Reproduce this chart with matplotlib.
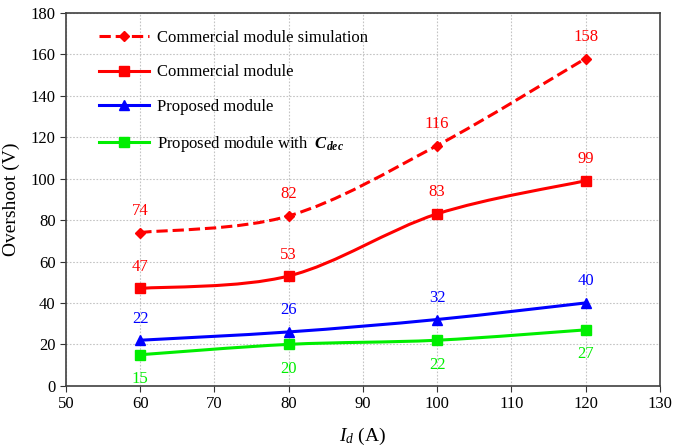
import numpy as np
import matplotlib.pyplot as plt
from matplotlib.path import Path
from matplotlib.patches import PathPatch

plt.rcParams["font.family"] = ["Liberation Serif", "DejaVu Serif"]
plt.rcParams["mathtext.fontset"] = "custom"
plt.rcParams["mathtext.rm"] = "Liberation Serif"
plt.rcParams["mathtext.it"] = "Liberation Serif:italic"
plt.rcParams["mathtext.bf"] = "Liberation Serif:bold:italic"

current = [60, 80, 100, 120]
sim_commercial = [74, 82, 116, 158]
commercial = [47, 53, 83, 99]
proposed = [22, 26, 32, 40]
proposed_cdec = [15, 20, 22, 27]

series = [
    (sim_commercial, "Commercial module simulation", "#ff0000", "D", "--", 5, 1),
    (commercial, "Commercial module", "#ff0000", "s", "-", 7, 1),
    (proposed, "Proposed module", "#0000ff", "^", "-", 7, 1),
    (proposed_cdec, r"Proposed module with  $\mathbf{C_{dec}}$", "#00ee00", "s", "-", 7, -1),
]


def smooth_path(x, y):
    # cubic bezier segments through the points, like a spreadsheet "smoothed line"
    p = np.column_stack([x, y]).astype(float)
    ext = np.vstack([p[0], p, p[-1]])
    verts = [p[0]]
    codes = [Path.MOVETO]
    for i in range(len(p) - 1):
        c1 = ext[i + 1] + (ext[i + 2] - ext[i]) / 6
        c2 = ext[i + 2] - (ext[i + 3] - ext[i + 1]) / 6
        verts += [c1, c2, ext[i + 2]]
        codes += [Path.CURVE4] * 3
    return Path(verts, codes)


fig = plt.figure(figsize=(6.88, 4.46), dpi=100)
ax = fig.add_axes([0.096, 0.135, 0.863, 0.836])

for vals, name, color, marker, ls, ms, side in series:
    patch = PathPatch(smooth_path(current, vals), facecolor="none", edgecolor=color,
                      linewidth=2.2, linestyle=ls, zorder=3)
    ax.add_patch(patch)
    ax.plot(current, vals, linestyle="none", marker=marker, color=color, markersize=ms, zorder=4)
    ax.plot([], [], color=color, linestyle=ls, linewidth=2.2, marker=marker, markersize=ms, label=name)
    for xv, yv in zip(current, vals):
        off = 6.5 if side > 0 else -8
        ax.text(xv, yv + off, str(yv), color=color, fontsize=12,
                ha="center", va="bottom" if side > 0 else "top", zorder=5)

ax.set_xlim(50, 130)
ax.set_ylim(0, 180)
ax.set_xticks(range(50, 131, 10))
ax.set_yticks(range(0, 181, 20))
ax.tick_params(labelsize=12, direction="out", length=4, colors="#333333", labelcolor="black")
ax.grid(True, color="#c4c4c4", linestyle=(0, (1.5, 1.5)), linewidth=0.8, zorder=0)
ax.set_axisbelow(True)
for sp in ax.spines.values():
    sp.set_color("#404040")
    sp.set_linewidth(1.2)

ax.set_xlabel(r"$I_d$ (A)", fontsize=14, labelpad=10)
ax.set_ylabel("Overshoot (V)", fontsize=14, labelpad=8)

ax.legend(loc="upper left", bbox_to_anchor=(0.03, 0.995), frameon=False, fontsize=12,
          handlelength=3.0, handletextpad=0.5, labelspacing=1.12)

fig.savefig("out.png", dpi=100)
